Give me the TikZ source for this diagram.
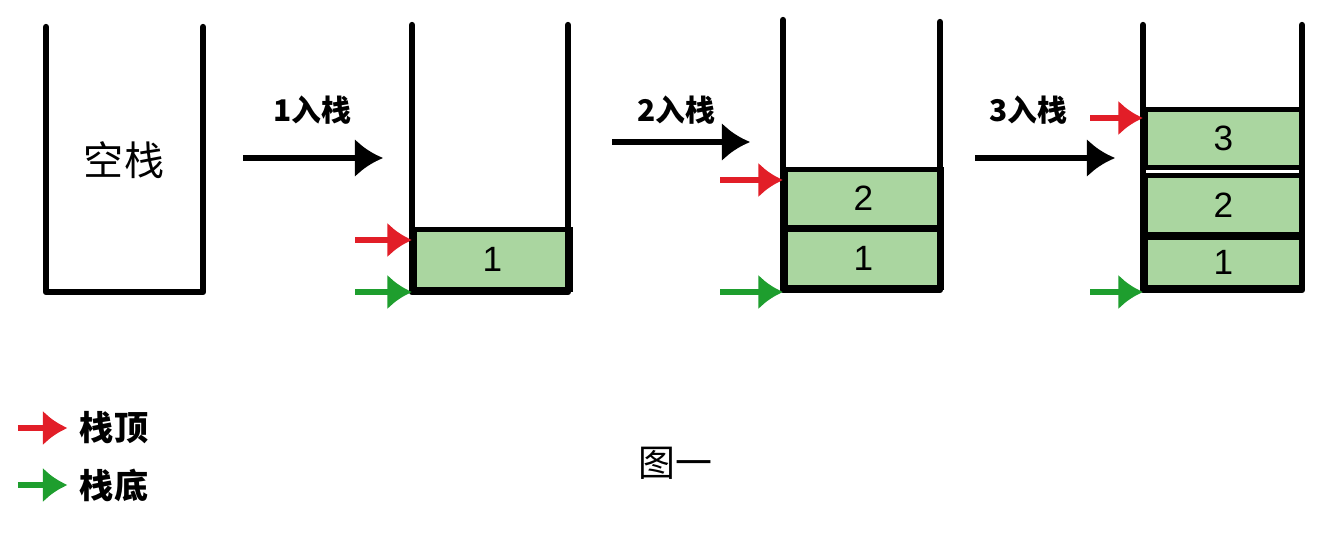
\documentclass[tikz,border=0pt]{standalone}
\usepackage{fontspec}
\setmainfont{Liberation Sans}
\newfontfamily\cjk{Noto Sans CJK SC}
\usetikzlibrary{arrows.meta}
\definecolor{elemgreen}{RGB}{170,214,160}
\definecolor{topred}{RGB}{226,30,40}
\definecolor{bottomgreen}{RGB}{30,158,46}
\begin{document}
\begin{tikzpicture}[wall/.style={line width=1.8pt,line cap=round,line join=round},
  elem/.style={draw,line width=1.3pt,fill=elemgreen,anchor=south west,minimum width=1.56cm,inner sep=0pt,font=\fontsize{10}{10}\selectfont},
  push/.style={line width=1.6pt,-{Latex[length=8pt,width=11pt]}},
  topptr/.style={topred,line width=1.5pt,-{Latex[length=7pt,width=10pt]}},
  bottomptr/.style={bottomgreen,line width=1.5pt,-{Latex[length=7pt,width=10pt]}},
  pushlabel/.style={font=\cjk\bfseries\fontsize{8.5}{9}\selectfont}]
  \useasboundingbox (0,0) rectangle (13.4,5.36); %page size
  % elements
  \node[elem,minimum height=0.60cm] (s2a) at (4.12,2.44) {1};
  \node[elem,minimum height=0.58cm] (s3a) at (7.83,2.46) {1};
  \node[elem,minimum height=0.58cm] (s3b) at (7.83,3.06) {2};
  \node[elem,minimum height=0.50cm] (s4a) at (11.43,2.46) {1};
  \node[elem,minimum height=0.59cm] (s4b) at (11.43,2.99) {2};
  \node[elem,minimum height=0.58cm] (s4c) at (11.43,3.66) {3};
  % the four stacks
  \draw[wall] (0.46,5.09) -- (0.46,2.44) -- (2.03,2.44) -- (2.03,5.09); %empty stack
  \draw[wall] (4.12,5.11) -- (4.12,2.44) -- (5.68,2.44) -- (5.68,5.11);
  \draw[wall] (7.83,5.16) -- (7.83,2.46) -- (9.40,2.46) -- (9.40,5.14);
  \draw[wall] (11.43,5.11) -- (11.43,2.46) -- (13.02,2.46) -- (13.02,5.11);
  \node[font=\cjk\fontsize{11.4}{12}\selectfont] (empty) at (1.24,3.76) {空栈};
  % push arrows
  \coordinate (p1a) at (2.43,3.78); \coordinate (p1b) at (3.83,3.78);
  \coordinate (p2a) at (6.12,3.94); \coordinate (p2b) at (7.50,3.94);
  \coordinate (p3a) at (9.75,3.78); \coordinate (p3b) at (11.15,3.78);
  \draw[push] (p1a) -- (p1b);
  \draw[push] (p2a) -- (p2b);
  \draw[push] (p3a) -- (p3b);
  \node[pushlabel] (l1) at (3.12,4.26) {1入栈};
  \node[pushlabel] (l2) at (6.76,4.26) {2入栈};
  \node[pushlabel] (l3) at (10.28,4.26) {3入栈};
  % top and bottom pointers
  \coordinate (t2) at (3.55,2.96); \coordinate (b2) at (3.55,2.44);
  \coordinate (t3) at (7.20,3.56); \coordinate (b3) at (7.20,2.44);
  \coordinate (t4) at (10.90,4.18); \coordinate (b4) at (10.90,2.44);
  \draw[topptr] (t2) -- (t2 -| s2a.west);
  \draw[bottomptr] (b2) -- (b2 -| s2a.west);
  \draw[topptr] (t3) -- (t3 -| s3b.west);
  \draw[bottomptr] (b3) -- (b3 -| s3a.west);
  \draw[topptr] (t4) -- (t4 -| s4c.west);
  \draw[bottomptr] (b4) -- (b4 -| s4a.west);
  % legend
  \node[font=\cjk\bfseries\fontsize{9.7}{10}\selectfont] (legtop) at (1.14,1.08) {栈顶};
  \node[font=\cjk\bfseries\fontsize{9.7}{10}\selectfont] (legbottom) at (1.14,0.51) {栈底};
  \coordinate (lt) at (0.18,1.08); \coordinate (lb) at (0.18,0.51);
  \draw[topptr] (lt) -- (legtop.west);
  \draw[bottomptr] (lb) -- (legbottom.west);
  \node[font=\cjk\fontsize{10.5}{11}\selectfont] (caption) at (6.75,0.73) {图一}; %caption
\end{tikzpicture}
\end{document}
